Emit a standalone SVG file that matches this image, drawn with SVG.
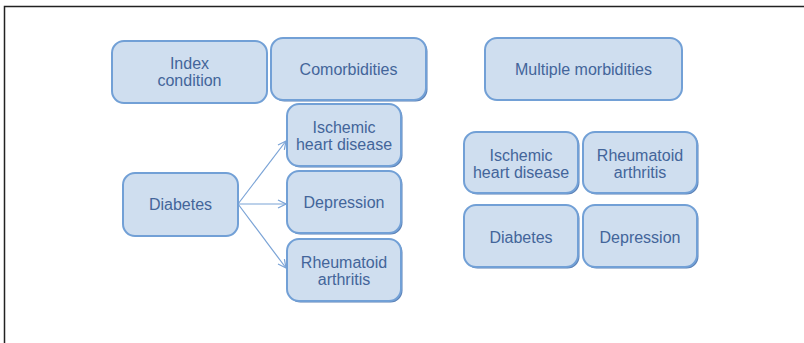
<svg xmlns="http://www.w3.org/2000/svg" width="804" height="343" viewBox="0 0 804 343">
<defs>
<style>
.box{fill:#cfdeef;stroke:#72a0d6;stroke-width:2}
.sh{fill:#5b80b6}
.t{font-family:"Liberation Sans",Arial,sans-serif;font-size:16px;fill:#43659a;text-anchor:middle}
.c{stroke:#7aa3d6;stroke-width:1.2;fill:none}
</style>
<marker id="ah" viewBox="0 0 10 10" refX="9" refY="5" markerWidth="10" markerHeight="10" markerUnits="userSpaceOnUse" orient="auto">
<path d="M1,1 L9,5 L1,9" fill="none" stroke="#7aa3d6" stroke-width="1.2"/>
</marker>
</defs>
<rect width="804" height="343" fill="#fff"/>
<path d="M4.5,343 V6.5 H804" fill="none" stroke="#222" stroke-width="1.5"/>
<g id="connectors">
<line class="c" x1="238" y1="204" x2="286" y2="141" marker-end="url(#ah)"/>
<line class="c" x1="238" y1="204" x2="286" y2="204" marker-end="url(#ah)"/>
<line class="c" x1="238" y1="204" x2="286" y2="268" marker-end="url(#ah)"/>
</g>
<g id="index-condition">
<rect class="box" x="112" y="41" width="155" height="62" rx="12"/>
<text class="t" x="189.5" y="68.5">Index</text>
<text class="t" x="189.5" y="86">condition</text>
</g>
<g id="comorbidities">
<rect class="sh" x="272.5" y="39.5" width="155" height="62" rx="12"/>
<rect class="box" x="271" y="38" width="155" height="62" rx="12"/>
<text class="t" x="348.5" y="75">Comorbidities</text>
</g>
<g id="multiple-morbidities">
<rect class="box" x="485" y="38" width="197" height="62" rx="12"/>
<text class="t" x="583.5" y="75">Multiple morbidities</text>
</g>
<g id="diabetes-left">
<rect class="box" x="123" y="173" width="115" height="63" rx="12"/>
<text class="t" x="180.5" y="210">Diabetes</text>
</g>
<g id="ihd-left">
<rect class="sh" x="288.5" y="105.5" width="114" height="62" rx="12"/>
<rect class="box" x="287" y="104" width="114" height="62" rx="12"/>
<text class="t" x="344" y="132.5">Ischemic</text>
<text class="t" x="344" y="150">heart disease</text>
</g>
<g id="depression-left">
<rect class="sh" x="288.5" y="172.5" width="114" height="62" rx="12"/>
<rect class="box" x="287" y="171" width="114" height="62" rx="12"/>
<text class="t" x="344" y="208">Depression</text>
</g>
<g id="ra-left">
<rect class="sh" x="288.5" y="240.5" width="114" height="62" rx="12"/>
<rect class="box" x="287" y="239" width="114" height="62" rx="12"/>
<text class="t" x="344" y="267.5">Rheumatoid</text>
<text class="t" x="344" y="285">arthritis</text>
</g>
<g id="ihd-right">
<rect class="sh" x="465.5" y="133.5" width="114" height="61" rx="12"/>
<rect class="box" x="464" y="132" width="114" height="61" rx="12"/>
<text class="t" x="521" y="160.5">Ischemic</text>
<text class="t" x="521" y="178">heart disease</text>
</g>
<g id="ra-right">
<rect class="sh" x="584.5" y="133.5" width="114" height="61" rx="12"/>
<rect class="box" x="583" y="132" width="114" height="61" rx="12"/>
<text class="t" x="640" y="160.5">Rheumatoid</text>
<text class="t" x="640" y="178">arthritis</text>
</g>
<g id="diabetes-right">
<rect class="sh" x="465.5" y="206.5" width="114" height="62" rx="12"/>
<rect class="box" x="464" y="205" width="114" height="62" rx="12"/>
<text class="t" x="521" y="243">Diabetes</text>
</g>
<g id="depression-right">
<rect class="sh" x="584.5" y="206.5" width="114" height="62" rx="12"/>
<rect class="box" x="583" y="205" width="114" height="62" rx="12"/>
<text class="t" x="640" y="243">Depression</text>
</g>
</svg>
